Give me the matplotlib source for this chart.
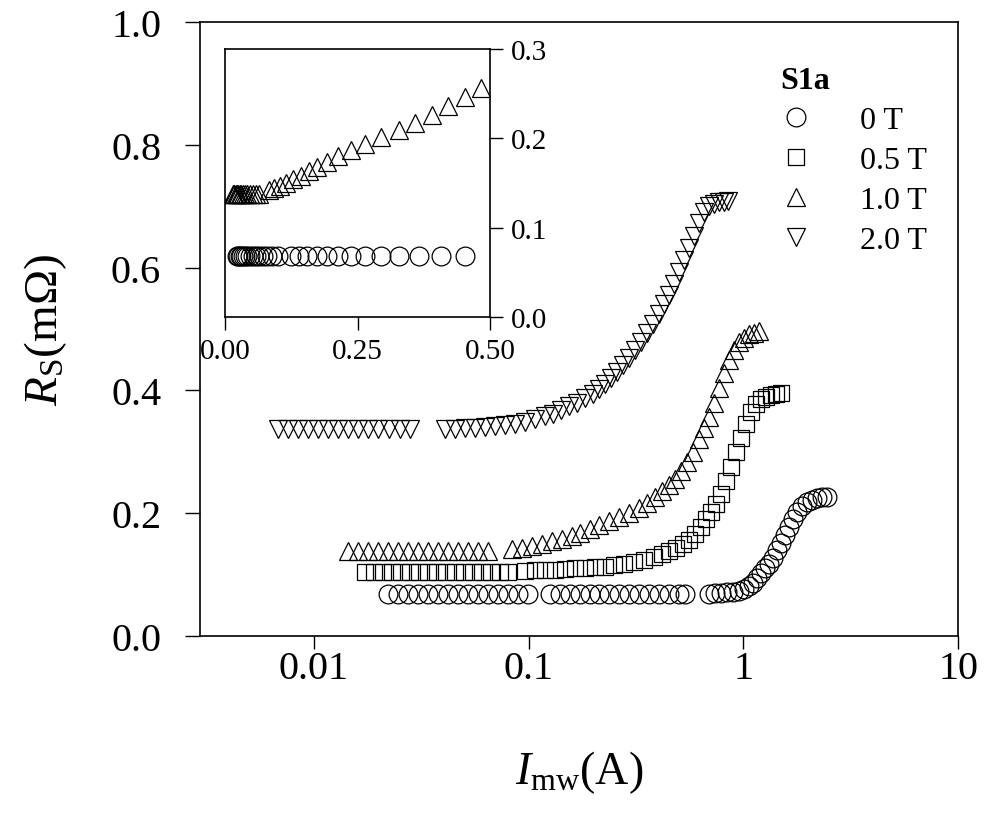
"""
Surface resistance vs microwave current for sample S1a, with linear-scale inset.
"""

import numpy as np
import matplotlib.pyplot as plt
from matplotlib.lines import Line2D

plt.rcParams['font.family'] = ['Liberation Serif', 'DejaVu Serif']
plt.rcParams['mathtext.fontset'] = 'custom'
plt.rcParams['mathtext.rm'] = 'Liberation Serif'
plt.rcParams['mathtext.it'] = 'Liberation Serif:italic'
plt.rcParams['mathtext.bf'] = 'Liberation Serif:bold'

# ---- data (I_mw in A, R_s in mOhm) ----
x_0T = [0.0221, 0.0246, 0.0274, 0.0305, 0.0339, 0.0378, 0.0420, 0.0468, 0.0521, 0.0580,
        0.0645, 0.0718, 0.0799, 0.0889, 0.0990,
        0.1252, 0.1394, 0.1551, 0.1727, 0.1922, 0.2139, 0.2381, 0.2650, 0.2950, 0.3283,
        0.3655, 0.4068, 0.4527, 0.5038, 0.5372,
        0.6948, 0.741, 0.7902, 0.8425, 0.8986, 0.9581, 1.011, 1.066, 1.113, 1.162,
        1.212, 1.266, 1.321, 1.379, 1.439, 1.502, 1.568, 1.637, 1.708, 1.783,
        1.881, 1.985, 2.094, 2.209, 2.331, 2.459]
r_0T = [0.068, 0.068, 0.068, 0.068, 0.068, 0.068, 0.068, 0.068, 0.068, 0.068,
        0.068, 0.068, 0.068, 0.068, 0.068,
        0.068, 0.068, 0.068, 0.068, 0.068, 0.068, 0.068, 0.068, 0.068, 0.068,
        0.068, 0.068, 0.068, 0.068, 0.068,
        0.069, 0.070, 0.070, 0.071, 0.072, 0.074, 0.077, 0.081, 0.086, 0.094,
        0.102, 0.110, 0.117, 0.127, 0.140, 0.152, 0.164, 0.177, 0.190, 0.202,
        0.211, 0.218, 0.222, 0.225, 0.226, 0.226]

x_05T = [0.01727, 0.01901, 0.02094, 0.02306, 0.02539, 0.02796, 0.03079, 0.0339, 0.03734, 0.04111,
         0.04527, 0.04985, 0.0549, 0.06045, 0.06657, 0.0733, 0.07988,
         0.0958, 0.1066, 0.1187, 0.1321, 0.1470, 0.1637, 0.1822, 0.2028, 0.2257, 0.2512,
         0.2796, 0.3112, 0.3464, 0.3855, 0.4201, 0.4527, 0.4880, 0.5259, 0.5608, 0.5979,
         0.6377, 0.6728, 0.7099, 0.7487, 0.7902, 0.8335, 0.8796, 0.9277, 0.9788, 1.0326,
         1.089, 1.149, 1.212, 1.279, 1.350, 1.424, 1.502]
r_05T = [0.105, 0.105, 0.105, 0.105, 0.105, 0.105, 0.105, 0.105, 0.105, 0.105,
         0.105, 0.105, 0.105, 0.105, 0.105, 0.105, 0.105,
         0.106, 0.107, 0.107, 0.108, 0.109, 0.110, 0.111, 0.112, 0.113, 0.115,
         0.117, 0.120, 0.124, 0.129, 0.134, 0.138, 0.143, 0.150, 0.157, 0.166,
         0.177, 0.190, 0.202, 0.215, 0.232, 0.252, 0.276, 0.300, 0.322, 0.345,
         0.364, 0.378, 0.386, 0.390, 0.392, 0.394, 0.395]

x_1T = [0.01439, 0.01602, 0.01783, 0.01985, 0.0221, 0.0246, 0.0274, 0.0305, 0.0339, 0.0378,
        0.0420, 0.0468, 0.0521, 0.0580, 0.0645,
        0.0834, 0.0928, 0.1033, 0.1150, 0.1280, 0.1424, 0.1585, 0.1727, 0.1922, 0.2139,
        0.2381, 0.2650, 0.2950, 0.3283, 0.3578, 0.3899, 0.4201, 0.4527, 0.4827, 0.5147,
        0.5489, 0.5853, 0.6241, 0.6585, 0.6948, 0.7329, 0.7733, 0.8158, 0.8608, 0.9082,
        0.9581, 1.011, 1.066, 1.125, 1.187]
r_1T = [0.138, 0.138, 0.138, 0.138, 0.138, 0.138, 0.138, 0.138, 0.138, 0.138,
        0.138, 0.138, 0.138, 0.138, 0.138,
        0.142, 0.144, 0.147, 0.150, 0.154, 0.158, 0.163, 0.168, 0.174, 0.180,
        0.187, 0.194, 0.201, 0.209, 0.217, 0.226, 0.236, 0.246, 0.256, 0.268,
        0.283, 0.300, 0.320, 0.338, 0.357, 0.380, 0.404, 0.428, 0.449, 0.466,
        0.478, 0.486, 0.491, 0.494, 0.496]

x_2T = [0.00681, 0.00757, 0.00843, 0.00938, 0.01044, 0.01162, 0.01293, 0.01439, 0.01602, 0.01783,
        0.01985, 0.0223, 0.0251, 0.0280,
        0.0407, 0.0453, 0.0504, 0.0561, 0.0624, 0.0695, 0.0773, 0.0861, 0.0958, 0.1066,
        0.1187, 0.1294, 0.1409, 0.1535, 0.1672, 0.1822, 0.1985, 0.2139, 0.2280, 0.2432,
        0.2594, 0.2766, 0.2950, 0.3146, 0.3355, 0.3578, 0.3815, 0.4068, 0.4290, 0.4527,
        0.4776, 0.5038, 0.5315, 0.5608, 0.5916, 0.6241, 0.6585, 0.6948, 0.7329, 0.7733,
        0.8158, 0.8514]
r_2T = [0.337, 0.337, 0.337, 0.337, 0.337, 0.337, 0.337, 0.337, 0.337, 0.337,
        0.337, 0.337, 0.337, 0.337,
        0.337, 0.337, 0.338, 0.339, 0.340, 0.342, 0.344, 0.346, 0.349, 0.353,
        0.358, 0.362, 0.368, 0.374, 0.380, 0.387, 0.394, 0.402, 0.410, 0.420,
        0.430, 0.441, 0.453, 0.466, 0.479, 0.493, 0.508, 0.525, 0.540, 0.556,
        0.573, 0.592, 0.612, 0.632, 0.652, 0.672, 0.690, 0.700, 0.704, 0.706,
        0.707, 0.708]

labels = ['0 T', '0.5 T', '1.0 T', '2.0 T']
markers = ['o', 's', '^', 'v']
xs = [x_0T, x_05T, x_1T, x_2T]
rs = [r_0T, r_05T, r_1T, r_2T]

x_ticks = [0.01, 0.1, 1, 10]
x_ticklabels = ['0.01', '0.1', '1', '10']
y_ticks = [0.0, 0.2, 0.4, 0.6, 0.8, 1.0]
inset_xticks = [0.0, 0.25, 0.5]
inset_yticks = [0.0, 0.1, 0.2, 0.3]

MS = 13.5
mkw = dict(linestyle='none', mfc='none', mec='black', mew=0.9)


def marker_size(m):
	return MS - 2 if m == 's' else MS


fig = plt.figure(figsize=(9.84, 8.2), dpi=100)
ax = fig.add_axes([0.2033, 0.2232, 0.7703, 0.7488])

for x, r, m, lab in zip(xs, rs, markers, labels):
	ax.plot(x, r, marker=m, ms=marker_size(m), label=lab, **mkw)

ax.set_xscale('log')
ax.set_xlim(0.00295, 10)
ax.set_ylim(0.0, 1.0)
ax.set_xticks(x_ticks)
ax.set_xticklabels(x_ticklabels)
ax.xaxis.set_minor_locator(plt.NullLocator())
ax.set_yticks(y_ticks)
ax.set_yticklabels([f'{v:.1f}' for v in y_ticks])
ax.tick_params(direction='out', width=1.0, labelsize=29)
ax.tick_params(axis='x', length=9, pad=1)
ax.tick_params(axis='y', length=11, pad=17)
for s in ax.spines.values():
	s.set_linewidth(1.2)

ax.set_xlabel(r'$I_{\rm mw}$(A)', fontsize=33, labelpad=44)
ax.set_ylabel(r'$R_{\rm S}$(m$\Omega$)', fontsize=34, labelpad=30)

# legend
handles = [Line2D([], [], marker=m, ms=marker_size(m), **mkw) for m in markers]
leg = ax.legend(handles, labels, loc='upper left', bbox_to_anchor=(0.765, 0.928),
	frameon=False, fontsize=23, title='S1a', alignment='left',
	title_fontproperties={'weight': 'bold', 'size': 23},
	handlelength=1.0, handletextpad=1.5, labelspacing=0.33, borderaxespad=0, borderpad=0)

# inset: linear scale, low-current part of 0 T and 1.0 T
axin = fig.add_axes([0.2287, 0.6122, 0.2693, 0.3268])
for x, r, m in [(x_0T, r_0T, 'o'), (x_1T, r_1T, '^')]:
	xa = np.array(x)
	ra = np.array(r)
	keep = xa <= 0.5
	axin.plot(xa[keep], ra[keep], marker=m, ms=MS, **mkw)
axin.set_xlim(0, 0.5)
axin.set_ylim(0, 0.3)
axin.set_xticks(inset_xticks)
axin.set_xticklabels(['0.00', '0.25', '0.50'])
axin.set_yticks(inset_yticks)
axin.set_yticklabels([f'{v:.1f}' for v in inset_yticks])
axin.yaxis.tick_right()
axin.tick_params(direction='out', length=9, width=1.0, labelsize=21, pad=6)
for s in axin.spines.values():
	s.set_linewidth(1.2)

fig.savefig('out.png', dpi=100)
